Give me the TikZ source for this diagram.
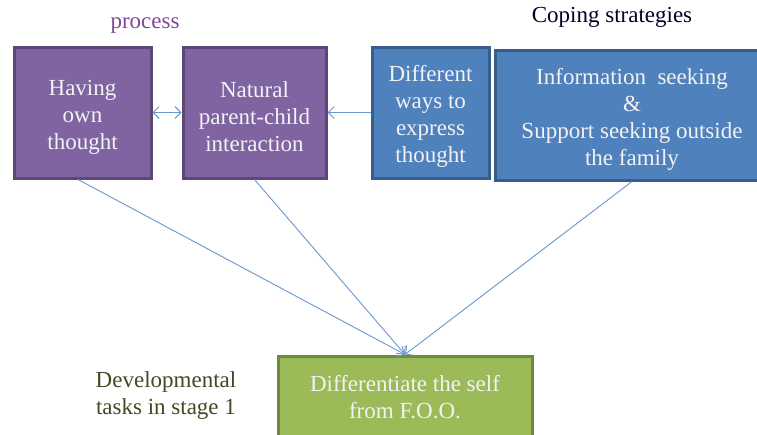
\documentclass[tikz,border=0pt]{standalone}
\usepackage{fontspec}
\setmainfont{Liberation Serif}
\usepackage{tikz}
\usetikzlibrary{arrows.meta}
\usepackage{xcolor}
\definecolor{procfill}{HTML}{8064A2}
\definecolor{procline}{HTML}{5C4776}
\definecolor{copefill}{HTML}{4F81BD}
\definecolor{copeline}{HTML}{385D8A}
\definecolor{taskfill}{HTML}{9BBB59}
\definecolor{taskline}{HTML}{71893F}
\definecolor{linkcol}{HTML}{6A96CC}
\newcommand{\topstrut}{\rule{0pt}{24pt}}

\begin{document}
\begin{tikzpicture} [x=1pt, y=-1pt,
    box/.style={draw, line width=3pt, align=center, text=white!95!black,
      font=\fontsize{23}{27}\selectfont, inner sep=0pt},
    procbox/.style={box, fill=procfill, draw=procline},
    copebox/.style={box, fill=copefill, draw=copeline},
    taskbox/.style={box, fill=taskfill, draw=taskline},
    caption/.style={font=\fontsize{23}{27}\selectfont, align=center}
  ]
  \useasboundingbox (0,0) rectangle (757,434);
  % boxes
  \node[procbox, minimum width=137pt, minimum height=131pt] (own) at (82.5,112.5)
    {\topstrut Having\\own\\thought};
  \node[procbox, minimum width=143pt, minimum height=131pt] (inter) at (254.5,112.5)
    {\topstrut Natural\\parent-child\\interaction};
  \node[copebox, minimum width=117pt, minimum height=131pt] (ways) at (430.5,112.5)
    {\topstrut Different\\ways to\\express\\thought};
  \node[copebox, minimum width=274pt, minimum height=130pt] (seek) at (632,115)
    {\topstrut Information\ \ seeking\\\&\\Support seeking outside\\the family};
  \node[taskbox, minimum width=254pt, minimum height=82pt] (self) at (405,397)
    {Differentiate the self\\from F.O.O.};
  % labels
  \node[caption, text=procfill!70!violet] (proc) at (145,26) {process};
  \node[caption, text=black!85!blue] (cope) at (612,17) {Coping strategies};
  \node[caption, text=taskline!55!black] (dev) at (166,395)
    {Developmental\\tasks in stage 1};
  %Pfeile
  \path[->, linkcol, line width=0.9pt, >={Straight Barb[length=6pt,width=12pt]}]
  (own) edge[<->] (inter)
  (ways) edge (inter)
  ([xshift=-4.5pt]own.south) edge (self.north)
  (inter.south) edge (self.north)
  (seek.south) edge (self.north)
  ;
\end{tikzpicture}
\end{document}
